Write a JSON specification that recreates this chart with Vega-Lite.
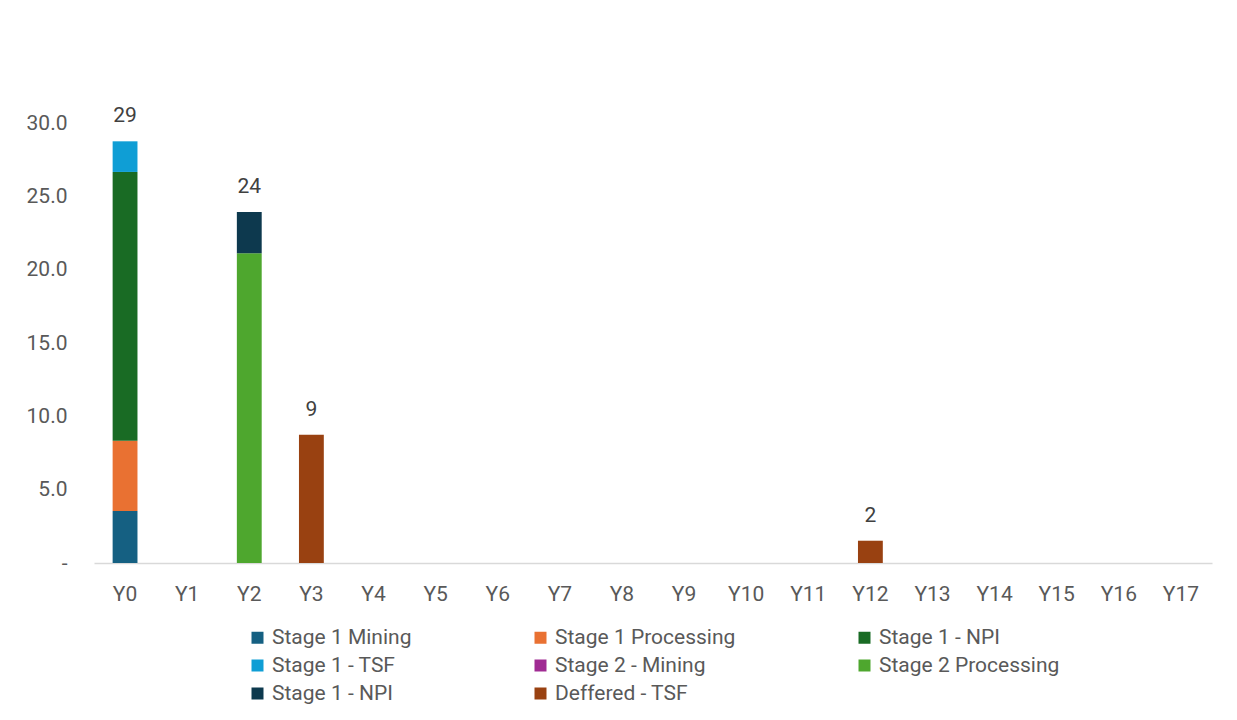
{
  "$schema": "https://vega.github.io/schema/vega-lite/v6.json",
  "width": 1118,
  "height": 513,
  "autosize": {"type": "none"},
  "padding": {"left": 94, "top": 50, "right": 25, "bottom": 157},
  "background": "white",
  "config": {
    "view": {"stroke": null},
    "font": "Roboto",
    "axis": {"labelFont": "Roboto", "labelFontSize": 21, "labelColor": "#595959", "grid": false, "ticks": false, "title": null},
    "legend": {"labelFont": "Roboto", "labelFontSize": 21, "labelColor": "#595959", "layout": {"bottom": {"anchor": "middle"}}}
  },
  "data": {
    "values": [
      {"year": "Y0", "series": "Stage 1 Mining", "idx": 1, "value": 3.55},
      {"year": "Y0", "series": "Stage 1 Processing", "idx": 2, "value": 4.79},
      {"year": "Y0", "series": "Stage 1 - NPI", "idx": 3, "value": 18.34},
      {"year": "Y0", "series": "Stage 1 - TSF", "idx": 4, "value": 2.09},
      {"year": "Y2", "series": "Stage 2 Processing", "idx": 6, "value": 21.13},
      {"year": "Y2", "series": "Stage 1 - NPI #2", "idx": 7, "value": 2.82},
      {"year": "Y3", "series": "Deffered - TSF", "idx": 8, "value": 8.75},
      {"year": "Y12", "series": "Deffered - TSF", "idx": 8, "value": 1.52}
    ]
  },
  "encoding": {
    "x": {
      "field": "year",
      "type": "nominal",
      "scale": {
        "domain": ["Y0","Y1","Y2","Y3","Y4","Y5","Y6","Y7","Y8","Y9","Y10","Y11","Y12","Y13","Y14","Y15","Y16","Y17"],
        "paddingInner": 0.6,
        "paddingOuter": 0.3
      },
      "axis": {"labelAngle": 0, "labelPadding": 20, "domainColor": "#d9d9d9", "domainWidth": 1.5}
    }
  },
  "layer": [
    {
      "mark": {"type": "bar"},
      "encoding": {
        "y": {
          "field": "value",
          "type": "quantitative",
          "aggregate": "sum",
          "stack": "zero",
          "scale": {"domain": [0, 35], "nice": false},
          "axis": {
            "values": [0, 5, 10, 15, 20, 25, 30],
            "domain": false,
            "labelPadding": 27,
            "labelExpr": "datum.value == 0 ? '-' : format(datum.value, '.1f')"
          }
        },
        "color": {
          "field": "series",
          "type": "nominal",
          "scale": {
            "domain": ["Stage 1 Mining", "Stage 1 Processing", "Stage 1 - NPI", "Stage 1 - TSF", "Stage 2 - Mining", "Stage 2 Processing", "Stage 1 - NPI #2", "Deffered - TSF"],
            "range": ["#156082", "#E97132", "#196B24", "#0F9ED5", "#A02B93", "#4EA72E", "#0D394E", "#994111"]
          },
          "legend": {
            "title": null,
            "orient": "bottom",
            "direction": "horizontal",
            "columns": 3,
            "symbolType": "square",
            "symbolSize": 144,
            "symbolStrokeWidth": 0,
            "symbolOffset": 0,
            "labelOffset": 4,
            "labelLimit": 0,
            "rowPadding": 6,
            "columnPadding": 118,
            "offset": 23,
            "labelExpr": "replace(datum.label, ' #2', '')"
          }
        },
        "order": {"field": "idx", "type": "quantitative"}
      }
    },
    {
      "transform": [{"aggregate": [{"op": "sum", "field": "value", "as": "total"}], "groupby": ["year"]}],
      "mark": {"type": "text", "baseline": "alphabetic", "dy": -19, "fontSize": 21, "color": "#404040"},
      "encoding": {
        "y": {"field": "total", "type": "quantitative"},
        "text": {"field": "total", "type": "quantitative", "format": ".0f"}
      }
    }
  ]
}
